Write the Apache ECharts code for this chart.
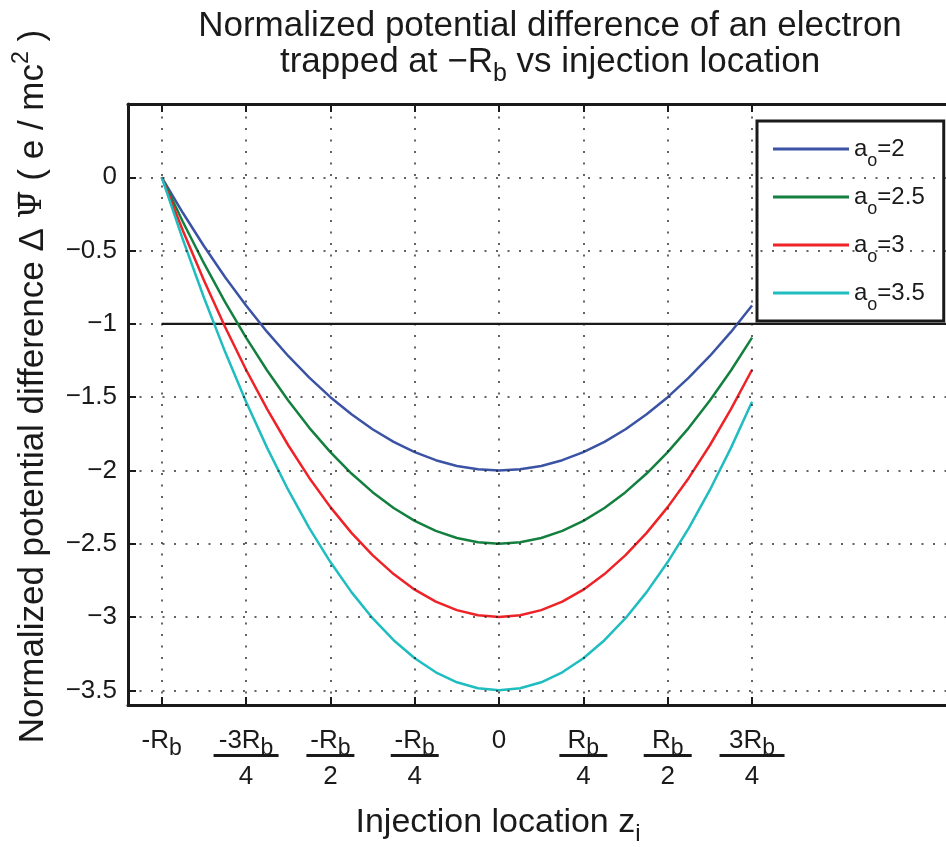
<!DOCTYPE html>
<html>
<head>
<meta charset="utf-8">
<script src="https://cdn.jsdelivr.net/npm/echarts@6/dist/echarts.min.js"></script>
<style>
  html, body { margin: 0; padding: 0; background: #fff; }
  #chart { width: 946px; height: 847px; }
</style>
</head>
<body>
<div id="chart"></div>
<script>
// injection location z (in units of R_b) and the potential
const zValues = [-1, -0.9375, -0.875, -0.8125, -0.75, -0.6875, -0.625, -0.5625, -0.5, -0.4375, -0.375, -0.3125, -0.25, -0.1875, -0.125, -0.0625,
  0, 0.0625, 0.125, 0.1875, 0.25, 0.3125, 0.375, 0.4375, 0.5, 0.5625, 0.625, 0.6875, 0.75];
const psiA2 = [0, -0.242, -0.469, -0.68, -0.875, -1.055, -1.219, -1.367, -1.5, -1.617, -1.719, -1.805, -1.875, -1.93, -1.969, -1.992,
  -2, -1.992, -1.969, -1.93, -1.875, -1.805, -1.719, -1.617, -1.5, -1.367, -1.219, -1.055, -0.875];
const psiA25 = [0, -0.303, -0.586, -0.85, -1.094, -1.318, -1.523, -1.709, -1.875, -2.021, -2.148, -2.256, -2.344, -2.412, -2.461, -2.49,
  -2.5, -2.49, -2.461, -2.412, -2.344, -2.256, -2.148, -2.021, -1.875, -1.709, -1.523, -1.318, -1.094];
const psiA3 = [0, -0.363, -0.703, -1.02, -1.313, -1.582, -1.828, -2.051, -2.25, -2.426, -2.578, -2.707, -2.813, -2.895, -2.953, -2.988,
  -3, -2.988, -2.953, -2.895, -2.813, -2.707, -2.578, -2.426, -2.25, -2.051, -1.828, -1.582, -1.313];
const psiA35 = [0, -0.424, -0.82, -1.189, -1.531, -1.846, -2.133, -2.393, -2.625, -2.83, -3.008, -3.158, -3.281, -3.377, -3.445, -3.486,
  -3.5, -3.486, -3.445, -3.377, -3.281, -3.158, -3.008, -2.83, -2.625, -2.393, -2.133, -1.846, -1.531];
const seriesNames = ['a_o=2', 'a_o=2.5', 'a_o=3', 'a_o=3.5'];
const seriesColors = ['#3b53a4', '#14803f', '#ee2227', '#1fbdbf'];
const thresholdZ = [-1, 1.325];
const thresholdPsi = [-1, -1];
const xTicks = [-1, -0.75, -0.5, -0.25, 0, 0.25, 0.5, 0.75];
const yTicks = [0, -0.5, -1, -1.5, -2, -2.5, -3, -3.5];
const xTickLabels = {
  '-1': '{n|-R}{s|b}',
  '-0.75': '{n|-3R}{s|b}\n{barW| }\n{d|4}',
  '-0.5': '{n|-R}{s|b}\n{bar| }\n{d|2}',
  '-0.25': '{n|-R}{s|b}\n{bar| }\n{d|4}',
  '0': '{n|0}',
  '0.25': '{n|R}{s|b}\n{bar| }\n{d|4}',
  '0.5': '{n|R}{s|b}\n{bar| }\n{d|2}',
  '0.75': '{n|3R}{s|b}\n{barW| }\n{d|4}'
};

const font = '"Liberation Sans", Arial, Helvetica, sans-serif';
const ink = '#1a1a1a';
const zip = (xs, ys) => xs.map((x, i) => [x, ys[i]]);
const curves = [psiA2, psiA25, psiA3, psiA35];

// subscript: small box pinned to the bottom of the line so the glyph drops below
const sub = (size, lh, h) => ({ fontFamily: font, fontSize: size, lineHeight: lh, height: h, verticalAlign: 'bottom', color: ink });

const dotted = { color: ink, width: 1.5, type: [2, 9.5], opacity: 0.9 };
const gridLines = xTicks.map(v => ({ xAxis: v })).concat(yTicks.map(v => ({ yAxis: v })));

const chart = echarts.init(document.getElementById('chart'), null, { renderer: 'canvas' });

chart.setOption({
  animation: false,
  backgroundColor: '#fff',
  title: {
    text: 'Normalized potential difference of an electron\ntrapped at \u2212R{s|b} vs injection location',
    left: 545,
    top: 3,
    textAlign: 'center',
    textStyle: {
      fontFamily: font, fontSize: 35, fontWeight: 'normal', color: ink, lineHeight: 36,
      rich: { s: sub(25, 36, 12) }
    }
  },
  grid: { left: 128, top: 104, right: 0, bottom: 142, containLabel: false, outerBoundsMode: 'none' },
  legend: {
    data: seriesNames,
    orient: 'vertical',
    left: 757,
    top: 121,
    padding: [13, 19, 7, 16],
    itemGap: 12,
    itemWidth: 76,
    itemHeight: 3,
    icon: 'rect',
    selectedMode: false,
    backgroundColor: '#fff',
    borderColor: ink,
    borderWidth: 3,
    formatter: name => '{a|a}{o|o}{t|=' + name.split('=')[1] + '}',
    textStyle: {
      fontFamily: font, fontSize: 24, color: ink, lineHeight: 30,
      rich: {
        a: { fontFamily: font, fontSize: 24, lineHeight: 30, color: ink },
        o: sub(18, 30, 6),
        t: { fontFamily: font, fontSize: 24, lineHeight: 30, color: ink }
      }
    }
  },
  xAxis: [{
    type: 'value',
    min: -1.1,
    max: 1.325,
    position: 'bottom',
    name: 'Injection location z{s|i}',
    nameLocation: 'middle',
    nameGap: 100,
    nameTextStyle: {
      fontFamily: font, fontSize: 34, color: ink, lineHeight: 36, padding: [0, 78, 0, 0],
      rich: { s: sub(24, 36, 14) }
    },
    axisLine: { onZero: false, lineStyle: { color: ink, width: 3 } },
    axisTick: { inside: true, length: 8, customValues: xTicks, lineStyle: { color: ink, width: 2 } },
    axisLabel: {
      customValues: xTicks,
      margin: 23,
      formatter: v => xTickLabels[String(v)] || '',
      fontFamily: font, fontSize: 26, color: ink, lineHeight: 26,
      rich: {
        n: { fontFamily: font, fontSize: 26, lineHeight: 26, color: ink },
        s: sub(23, 26, 10),
        d: { fontFamily: font, fontSize: 26, lineHeight: 26, color: ink },
        bar: { width: 48, height: 3, fontSize: 1, lineHeight: 10, verticalAlign: 'top', backgroundColor: ink },
        barW: { width: 65, height: 3, fontSize: 1, lineHeight: 10, verticalAlign: 'top', backgroundColor: ink }
      }
    },
    splitLine: { show: false }
  }, {
    type: 'value',
    min: -1.1,
    max: 1.325,
    position: 'top',
    axisLine: { onZero: false, lineStyle: { color: ink, width: 3 } },
    axisTick: { inside: true, length: 8, customValues: xTicks, lineStyle: { color: ink, width: 2 } },
    axisLabel: { show: false },
    splitLine: { show: false }
  }],
  yAxis: {
    type: 'value',
    min: -3.6,
    max: 0.5,
    name: 'Normalized potential difference \u0394 {ov|\u03A8\u0304} ( e / mc{sup|2} )',
    nameLocation: 'middle',
    nameGap: 77,
    nameTextStyle: {
      fontFamily: font, fontSize: 35, color: ink, lineHeight: 36, padding: [0, 0, 0, 36],
      rich: {
        ov: { fontFamily: '"DejaVu Serif", serif', fontSize: 32, lineHeight: 36, color: ink },
        sup: { fontFamily: font, fontSize: 23, lineHeight: 36, height: 14, verticalAlign: 'top', color: ink }
      }
    },
    axisLine: { onZero: false, lineStyle: { color: ink, width: 3 } },
    axisTick: { inside: true, length: 8, customValues: yTicks, lineStyle: { color: ink, width: 2 } },
    axisLabel: {
      customValues: yTicks,
      margin: 11,
      formatter: v => String(v).replace('-', '\u2212'),
      fontFamily: font, fontSize: 26, color: ink
    },
    splitLine: { show: false }
  },
  series: [{
    name: 'threshold',
    type: 'line',
    data: zip(thresholdZ, thresholdPsi),
    showSymbol: false,
    silent: true,
    lineStyle: { color: ink, width: 2.2 },
    markLine: {
      silent: true,
      symbol: 'none',
      label: { show: false },
      lineStyle: dotted,
      data: gridLines
    }
  }].concat(seriesNames.map((name, i) => ({
    name: name,
    type: 'line',
    data: zip(zValues, curves[i]),
    smooth: false,
    showSymbol: false,
    lineStyle: { color: seriesColors[i], width: 2.5, join: 'round' },
    itemStyle: { color: seriesColors[i] }
  })))
});
</script>
</body>
</html>
